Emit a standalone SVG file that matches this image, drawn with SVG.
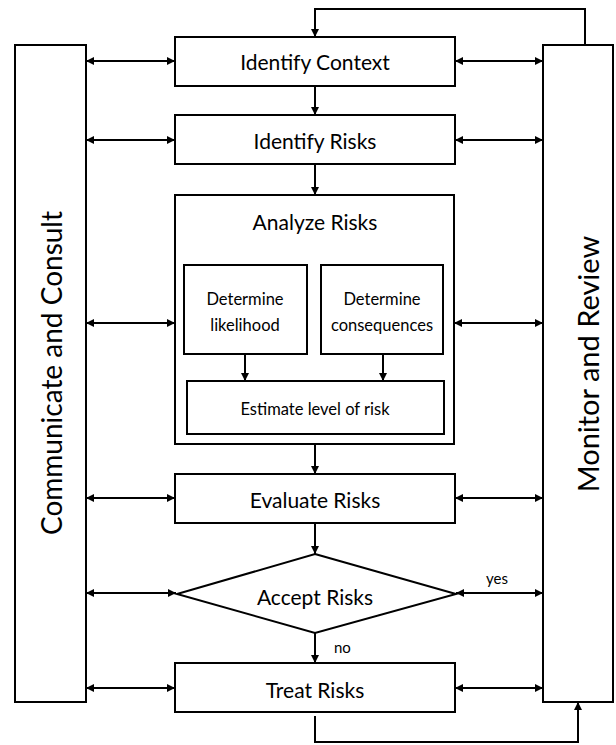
<svg xmlns="http://www.w3.org/2000/svg" width="616" height="745" viewBox="0 0 616 745">
<defs>
<marker id="ah" viewBox="0 0 10 10" refX="10" refY="5" markerWidth="4.5" markerHeight="4" orient="auto-start-reverse" markerUnits="strokeWidth">
<path d="M0,0 L10,5 L0,10 Z" fill="#000"/>
</marker>
</defs>
<style>
.box{fill:#fff;stroke:#000;stroke-width:2}
.t{font-family:Lato,"Open Sans",sans-serif;fill:#000;text-anchor:middle;dominant-baseline:central}
.big{font-size:21px}
.sm{font-size:16.5px}
.side{font-size:29px}
.c{fill:none;stroke:#000;stroke-width:2}
.lbl{font-family:Lato,"Open Sans",sans-serif;font-size:15px;fill:#000}
</style>
<rect width="616" height="745" fill="#fff"/>
<g id="communicate"><rect class="box" x="15" y="45" width="71" height="657"/><text class="t side" style="font-size:28px" transform="translate(51,373) rotate(-90)">Communicate and Consult</text></g>
<g id="monitor"><rect class="box" x="543" y="45" width="70" height="657"/><text class="t side" transform="translate(587,364) rotate(-90)">Monitor and Review</text></g>
<g id="identify-context"><rect class="box" x="175" y="37" width="280" height="49"/><text class="t big" x="315" y="61">Identify Context</text></g>
<g id="identify-risks"><rect class="box" x="175" y="115" width="280" height="49"/><text class="t big" x="315" y="140">Identify Risks</text></g>
<g id="analyze-risks"><rect class="box" x="175" y="195" width="279" height="249"/><text class="t big" x="315" y="221">Analyze Risks</text></g>
<g id="likelihood"><rect class="box" x="184" y="265" width="123" height="89"/><text class="t sm" x="245" y="299">Determine</text><text class="t sm" x="245" y="325">likelihood</text></g>
<g id="consequences"><rect class="box" x="321" y="265" width="122" height="89"/><text class="t sm" x="382" y="299">Determine</text><text class="t sm" x="382" y="325">consequences</text></g>
<g id="estimate"><rect class="box" x="187" y="381" width="257" height="53"/><text class="t sm" x="315" y="409">Estimate level of risk</text></g>
<g id="evaluate-risks"><rect class="box" x="175" y="474" width="280" height="49"/><text class="t big" x="315" y="499">Evaluate Risks</text></g>
<g id="accept-risks"><polygon class="box" points="315,554 456,594 315,633 177,594"/><text class="t big" x="315" y="596">Accept Risks</text></g>
<g id="treat-risks"><rect class="box" x="175" y="663" width="280" height="49"/><text class="t big" x="315" y="689">Treat Risks</text></g>
<g id="connectors">
<path class="c" d="M585,45 V9 H315 V37" marker-end="url(#ah)"/>
<path class="c" d="M315,86 V115" marker-end="url(#ah)"/>
<path class="c" d="M315,164 V195" marker-end="url(#ah)"/>
<path class="c" d="M245,354 V381" marker-end="url(#ah)"/>
<path class="c" d="M383,354 V381" marker-end="url(#ah)"/>
<path class="c" d="M315,444 V474" marker-end="url(#ah)"/>
<path class="c" d="M315,523 V554" marker-end="url(#ah)"/>
<path class="c" d="M315,633 V663" marker-end="url(#ah)"/>
<path class="c" d="M315,716 V742 H578 V702" marker-end="url(#ah)"/>
<path class="c" d="M86,61 H175" marker-start="url(#ah)" marker-end="url(#ah)"/>
<path class="c" d="M86,140 H175" marker-start="url(#ah)" marker-end="url(#ah)"/>
<path class="c" d="M86,323 H175" marker-start="url(#ah)" marker-end="url(#ah)"/>
<path class="c" d="M86,498 H175" marker-start="url(#ah)" marker-end="url(#ah)"/>
<path class="c" d="M86,593 H176" marker-start="url(#ah)" marker-end="url(#ah)"/>
<path class="c" d="M86,688 H175" marker-start="url(#ah)" marker-end="url(#ah)"/>
<path class="c" d="M455,61 H543" marker-start="url(#ah)" marker-end="url(#ah)"/>
<path class="c" d="M455,140 H543" marker-start="url(#ah)" marker-end="url(#ah)"/>
<path class="c" d="M454,323 H543" marker-start="url(#ah)" marker-end="url(#ah)"/>
<path class="c" d="M455,498 H543" marker-start="url(#ah)" marker-end="url(#ah)"/>
<path class="c" d="M456,593 H543" marker-start="url(#ah)" marker-end="url(#ah)"/>
<path class="c" d="M455,688 H543" marker-start="url(#ah)" marker-end="url(#ah)"/>
<text class="lbl" x="486" y="584">yes</text>
<text class="lbl" x="334" y="653">no</text>
</g>
</svg>
